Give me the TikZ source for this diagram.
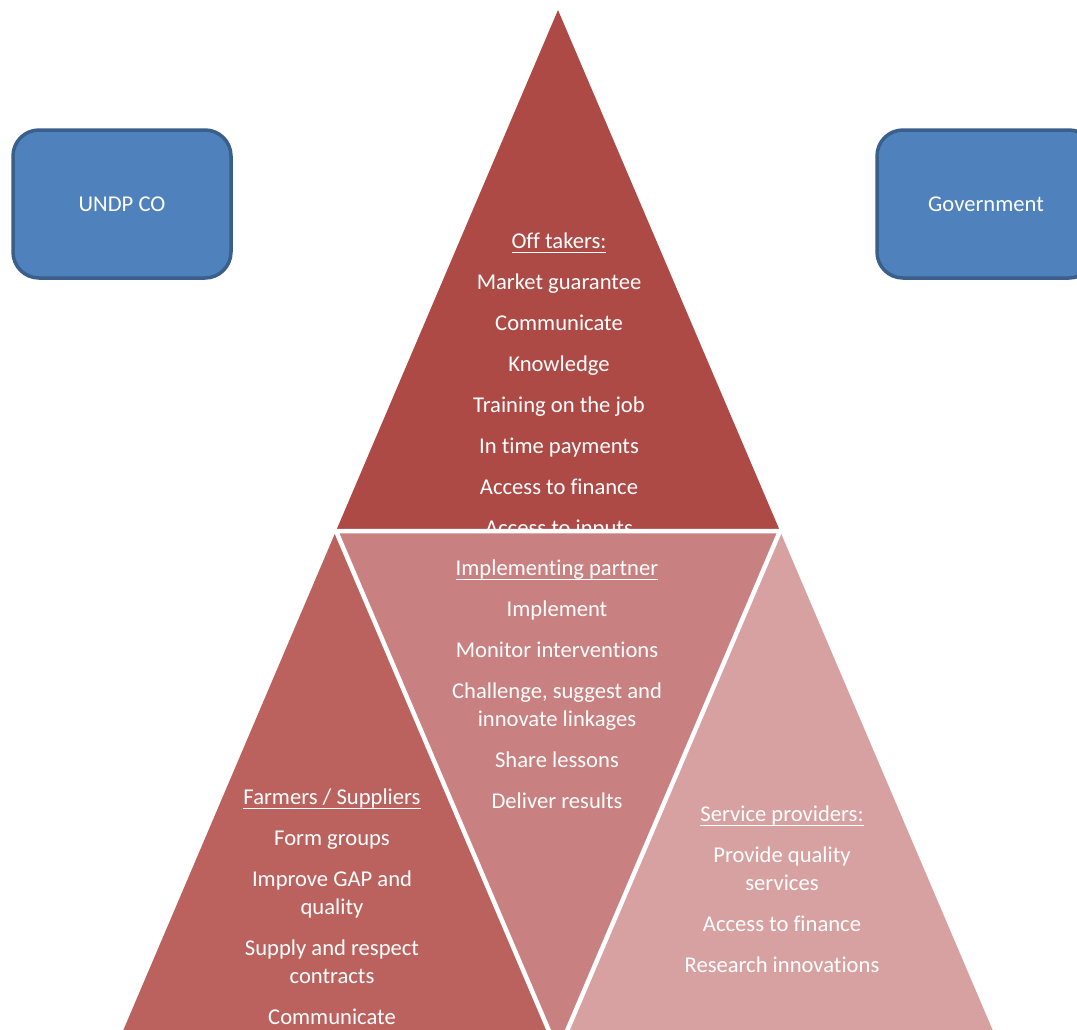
\documentclass[tikz,border=0pt]{standalone}
\usepackage{fontspec}
\setmainfont{Carlito}[Ligatures=NoCommon]
\definecolor{boxblue}{HTML}{4F81BD}
\definecolor{boxedge}{HTML}{3A5F8B}
\definecolor{redtop}{HTML}{AE4A46}
\definecolor{redleft}{HTML}{BC625E}
\definecolor{redmid}{HTML}{C98080}
\definecolor{redright}{HTML}{D8A1A1}
\newcommand{\rolehead}[1]{\setbox0=\hbox{#1}\rlap{\rule[-4pt]{\wd0}{1.4pt}}\box0}
\tikzset{
  actor/.style={draw=boxedge, fill=boxblue, line width=3.5pt, rounded corners=26pt,
    minimum width=218pt, minimum height=148pt, text=white},
  role/.style={text=white, align=center, anchor=north, inner sep=0pt},
}
\begin{document}
\begin{tikzpicture}[x=1pt,y=-1pt,font=\fontsize{22.6}{28}\selectfont]
  \useasboundingbox (0,0) rectangle (1077,1029);
  \clip (0,0) rectangle (1077,1029);
  \fill[white] (0,0) rectangle (1077,1029);

  % corners of the big triangle and its midpoints
  \coordinate (apex) at (558,10);
  \coordinate (midL) at (336,531);
  \coordinate (midR) at (780,531);
  \coordinate (midB) at (558,1052);
  \coordinate (baseL) at (114,1052);
  \coordinate (baseR) at (1002,1052);

  \node[actor] (undp) at (122,204) {UNDP CO};
  \node[actor] (gov) at (986,204) {Government};

  \fill[redtop] (apex) -- (midL) -- (midR) -- cycle;
  \node[role] (offtakers) at (559,233) {\rolehead{Off takers:}\\[13pt]
    Market guarantee\\[13pt] Communicate\\[13pt] Knowledge\\[13pt]
    Training on the job\\[13pt] In time payments\\[13pt]
    Access to finance\\[13pt] Access to inputs};

  \fill[redleft] (midL) -- (baseL) -- (midB) -- cycle;
  \node[role] (farmers) at (332,789) {\rolehead{Farmers / Suppliers}\\[13pt]
    Form groups\\[13pt] Improve GAP and\\ quality\\[13pt]
    Supply and respect\\ contracts\\[13pt] Communicate};

  \fill[redright] (midR) -- (midB) -- (baseR) -- cycle;
  \node[role] (services) at (782,806) {\rolehead{Service providers:}\\[13pt]
    Provide quality\\ services\\[13pt] Access to finance\\[13pt]
    Research innovations};

  \filldraw[fill=redmid, draw=white, line width=4.5pt] (midL) -- (midR) -- (midB) -- cycle;
  \node[role] (partner) at (557,560) {\rolehead{Implementing partner}\\[13pt]
    Implement\\[13pt] Monitor interventions\\[13pt]
    Challenge, suggest and\\ innovate linkages\\[13pt]
    Share lessons\\[13pt] Deliver results};
\end{tikzpicture}
\end{document}
